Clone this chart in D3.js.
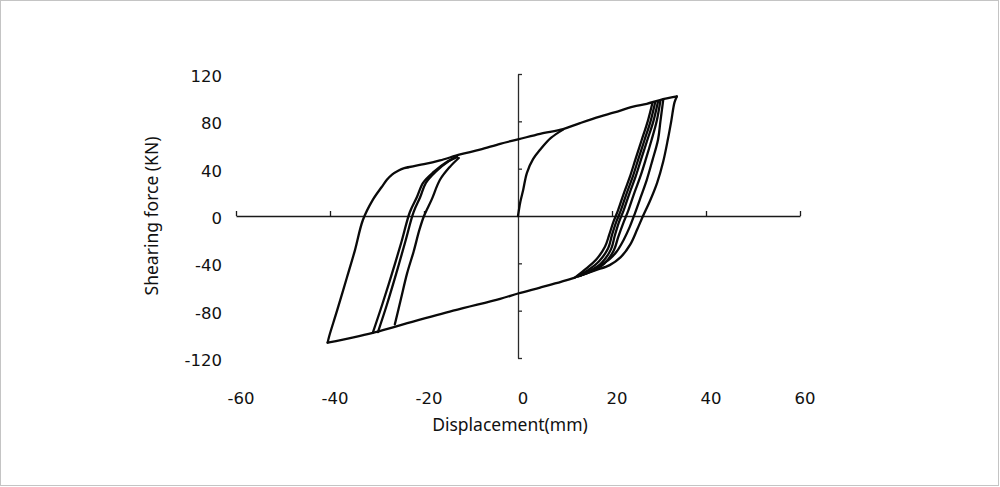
<!DOCTYPE html>
<html>
<head>
<meta charset="utf-8">
<script src="https://cdn.jsdelivr.net/npm/d3@7"></script>
<style>
  html, body { margin: 0; padding: 0; background: #fff; }
  svg { display: block; }
  text { font-family: "Noto Sans", "Open Sans", sans-serif; fill: #111; }
  .tick-label { font-family: "DejaVu Sans", "Noto Sans", sans-serif; }
</style>
</head>
<body>
<svg id="chart" width="1000" height="487"></svg>
<script>
// ---- data (displacement mm, shearing force kN) ----
const xTickValues = [-60, -40, -20, 0, 20, 40, 60];
const yTickValues = [-120, -80, -40, 0, 40, 80, 120];
const xTickLabels = ["-60", "-40", "-20", "0", "20", "40", "60"];
const yTickLabels = ["-120", "-80", "-40", "0", "40", "80", "120"];

// initial (virgin) loading curve
const virginCurve = [[0,0],[0.5,12],[1.1,22],[1.9,36.5],[3.2,48],[4.7,56],[7,66],[9.6,73]];

// outer loop branches
const outerReloading = [[-40.5,-107],[-40.2,-102],[-38.5,-80],[-36.4,-52],[-34.7,-29],[-33,-3.4],[-30.9,13.6],[-29,24.5],[-27.9,30.6],[-26.8,35],[-25.4,38.5],[-24.2,40.5],[-23.4,41.2]];
const upperEnvelope = [[-23.4,41.2],[-20,43.8],[-16.6,47],[-12.3,52],[-8.1,56],[-3.8,61],[0,64.7],[4.7,69.5],[9.6,73.5],[13.2,78.5],[17.4,84],[20.5,87.5],[24.5,92.5],[27.4,94.8],[30.2,98],[33.8,101]];
const outerUnloading = [[33.8,101],[33.3,96],[32.6,80],[31.9,65],[30.9,46],[29.6,28],[28,12],[26.6,0],[25.4,-11],[23.9,-24],[21.8,-35],[19.5,-41.5],[16.4,-46],[12.1,-52]];
const lowerEnvelope = [[12.1,-52],[7.9,-57],[4.7,-60.5],[0,-65.5],[-3.8,-70],[-13.8,-80],[-25.7,-93],[-30.9,-98.7],[-35,-102.5],[-40.5,-107]];

// inner cycles: reloading branches (left) and unloading branches (right)
const innerReloading1 = [[-30.9,-98.7],[-28.9,-75],[-26.8,-48.5],[-24.8,-22],[-23,3.4],[-21.5,16],[-20.2,28],[-18,37],[-15,46],[-13,50]];
const innerReloading2 = [[-29.8,-98.1],[-27.9,-75],[-25.9,-48.5],[-24,-22],[-22.2,3.4],[-20.8,16],[-19.6,28],[-17.5,37.5],[-14.7,46.5],[-13,50]];
const innerReloading3 = [[-26.2,-91.5],[-24.9,-70],[-23.6,-48.5],[-22.2,-30],[-21,-12],[-20,0],[-18.4,13.6],[-16.6,30.6],[-14.5,41.5],[-12.6,49]];

const innerUnloading1 = [[28.6,95.5],[27.6,80],[26.3,64],[25,48],[23.8,33],[22.5,19],[21.3,5],[20.3,-5],[19.4,-16],[18.5,-26],[16.6,-37],[14.5,-44.5],[12.3,-51.5]];
const innerUnloading2 = [[29.2,96.3],[28.2,80],[26.9,64],[25.6,48],[24.4,33],[23.1,19],[21.9,5],[20.9,-5],[20,-16],[19.2,-27],[17.2,-38.5],[15,-45.5],[12.6,-51]];
const innerUnloading3 = [[29.8,97],[28.8,80],[27.5,64],[26.2,48],[25,33],[23.7,19],[22.5,5],[21.5,-5],[20.6,-16.5],[19.8,-28],[17.8,-39.5],[15.5,-46],[13,-50.7]];
const innerUnloading4 = [[30.3,97.5],[29.5,80],[28.4,64],[27.2,48],[26,33],[24.7,19],[23.5,5],[22.4,-6],[21.3,-18],[20.4,-29],[18.3,-40.5],[15.8,-46.5],[13.2,-50.5]];
const innerUnloading5 = [[30.9,98.2],[30.3,80],[29.8,64.7],[28.6,47],[27.4,30.6],[26.2,17],[24.9,2.5],[23.8,-9],[22.5,-20],[21,-30],[19.6,-36],[17,-43],[14.9,-47.5],[12.8,-51]];

// ---- drawing ----
const svg = d3.select("#chart");

// light frame around the picture
svg.append("rect").attr("x", 0.5).attr("y", 0.5).attr("width", 998).attr("height", 485)
  .attr("fill", "#fff").attr("stroke", "#c4c4c4").attr("stroke-width", 1);

const x = d3.scaleLinear().domain([-60, 60]).range([236, 800]);
const y = d3.scaleLinear().domain([-120, 120]).range([358, 74]);

// horizontal axis through zero with small upward ticks
const xAxis = d3.axisBottom(x)
  .tickValues(xTickValues.filter(v => v !== 0))
  .tickSizeInner(-5).tickSizeOuter(0).tickFormat("");
const gx = svg.append("g").attr("transform", `translate(0,${y(0)})`).call(xAxis);
gx.select(".domain").attr("stroke", "#1a1a1a").attr("stroke-width", 1.6);
gx.selectAll(".tick line").attr("stroke", "#1a1a1a").attr("stroke-width", 1.3);

// vertical axis through zero with small right-pointing ticks
const yAxis = d3.axisLeft(y)
  .tickValues(yTickValues.filter(v => v !== 0))
  .tickSizeInner(-4).tickSizeOuter(0).tickFormat("");
const gy = svg.append("g").attr("transform", `translate(${x(0)},0)`).call(yAxis);
gy.select(".domain").attr("stroke", "#2a2a2a").attr("stroke-width", 1.3);
gy.selectAll(".tick line").attr("stroke", "#2a2a2a").attr("stroke-width", 1.3);

// tick labels placed at left and bottom of the plot
svg.append("g").selectAll("text").data(yTickValues).join("text")
  .attr("class", "tick-label")
  .attr("x", 222).attr("y", d => y(d) + 2).attr("dy", "0.36em")
  .attr("text-anchor", "end").attr("font-size", 16.5)
  .text((d, i) => yTickLabels[i]);

svg.append("g").selectAll("text").data(xTickValues).join("text")
  .attr("class", "tick-label")
  .attr("x", d => x(d) + 5).attr("y", 404)
  .attr("text-anchor", "middle").attr("font-size", 16.5)
  .text((d, i) => xTickLabels[i]);

// axis titles
svg.append("text").attr("x", 510).attr("y", 431).attr("text-anchor", "middle")
  .attr("font-size", 17.5).text("Displacement(mm)");
svg.append("text").attr("transform", "translate(158,216) rotate(-90)")
  .attr("text-anchor", "middle").attr("font-size", 17.5).text("Shearing force (KN)");

// hysteresis curves
const line = d3.line().x(d => x(d[0])).y(d => y(d[1])).curve(d3.curveCatmullRom.alpha(0.5));
const curves = [
  virginCurve,
  outerReloading, upperEnvelope, outerUnloading, lowerEnvelope,
  innerReloading1, innerReloading2, innerReloading3,
  innerUnloading1, innerUnloading2, innerUnloading3, innerUnloading4, innerUnloading5
];
svg.append("g").selectAll("path").data(curves).join("path")
  .attr("d", line)
  .attr("fill", "none").attr("stroke", "#0a0a0a").attr("stroke-width", 2.3)
  .attr("stroke-linejoin", "round").attr("stroke-linecap", "round");
</script>
</body>
</html>
